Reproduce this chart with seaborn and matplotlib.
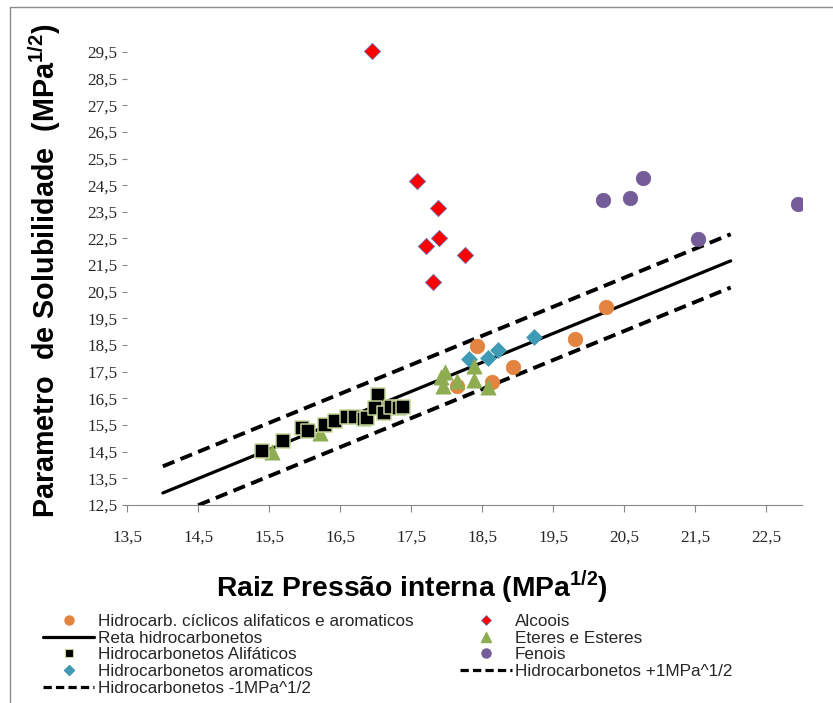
import matplotlib
matplotlib.use("Agg")
import matplotlib.pyplot as plt
import seaborn as sns
import pandas as pd
from matplotlib.lines import Line2D

# --- data -------------------------------------------------------------
ciclicos_x = [20.24, 19.81, 18.43, 18.94, 18.64, 18.15]
ciclicos_y = [19.92, 18.73, 18.48, 17.67, 17.13, 16.97]

aromaticos_x = [19.23, 18.72, 18.58, 18.31]
aromaticos_y = [18.79, 18.32, 18.00, 17.98]

alcoois_x = [16.95, 17.58, 17.88, 17.89, 17.71, 18.26, 17.80]
alcoois_y = [29.55, 24.66, 23.66, 22.51, 22.22, 21.87, 20.88]

fenois_x = [20.20, 20.58, 20.77, 21.54, 22.95]
fenois_y = [23.94, 24.01, 24.78, 22.48, 23.78]

eteres_x = [18.39, 17.98, 17.92, 17.95, 18.14, 18.39, 18.58, 15.54, 16.22]
eteres_y = [17.72, 17.50, 17.29, 16.97, 17.16, 17.19, 16.92, 14.50, 15.19]

alifaticos_x = [15.39, 15.69, 15.96, 16.05, 16.28, 16.42, 16.59, 16.71,
                16.83, 16.87, 17.03, 16.99, 17.12, 17.21, 17.32, 17.39]
alifaticos_y = [14.53, 14.90, 15.38, 15.29, 15.50, 15.66, 15.81, 15.81,
                15.72, 15.75, 16.63, 16.13, 15.96, 16.19, 16.13, 16.17]

# hydrocarbon line (end points) and the +/- band offset
reta_x = [14.0, 22.0]
reta_y = [12.95, 21.66]
desvio = 1.0

x_ticks = [13.5, 14.5, 15.5, 16.5, 17.5, 18.5, 19.5, 20.5, 21.5, 22.5]
x_tick_labels = ["13,5", "14,5", "15,5", "16,5", "17,5", "18,5", "19,5",
                 "20,5", "21,5", "22,5"]
y_ticks = [12.5, 13.5, 14.5, 15.5, 16.5, 17.5, 18.5, 19.5, 20.5, 21.5,
           22.5, 23.5, 24.5, 25.5, 26.5, 27.5, 28.5, 29.5]
y_tick_labels = ["12,5", "13,5", "14,5", "15,5", "16,5", "17,5", "18,5",
                 "19,5", "20,5", "21,5", "22,5", "23,5", "24,5", "25,5",
                 "26,5", "27,5", "28,5", "29,5"]

# --- style ------------------------------------------------------------
sns.set_theme(style="white")
plt.rcParams['font.family'] = ['Liberation Sans', 'DejaVu Sans']
plt.rcParams['mathtext.fontset'] = 'custom'
plt.rcParams['mathtext.rm'] = 'Liberation Sans'
plt.rcParams['mathtext.bf'] = 'Liberation Sans:bold'

c_orange = '#e2843f'
c_teal = '#3f9bb5'
c_red = '#ff0000'
c_green = '#8eac50'
c_purple = '#735c98'
c_sq_edge = '#c3d69b'

fig = plt.figure(figsize=(8.33, 7.03), dpi=100)
ax = fig.add_axes([0.1529, 0.2817, 0.8095, 0.6634])

# --- lines ------------------------------------------------------------
linhas = pd.DataFrame({
    'x': reta_x,
    'reta': reta_y,
    'mais': [v + desvio for v in reta_y],
    'menos': [v - desvio for v in reta_y],
})
dash = (0, (3.2, 1.7))
sns.lineplot(data=linhas, x='x', y='reta', ax=ax, color='black', lw=2.3,
             zorder=2)
sns.lineplot(data=linhas, x='x', y='mais', ax=ax, color='black', lw=2.8,
             linestyle=dash, dash_capstyle='butt', zorder=2)
sns.lineplot(data=linhas, x='x', y='menos', ax=ax, color='black', lw=2.8,
             linestyle=dash, dash_capstyle='butt', zorder=2)

# --- points -----------------------------------------------------------
sns.scatterplot(x=ciclicos_x, y=ciclicos_y, ax=ax, marker='o', s=110,
                color=c_orange, edgecolor=c_orange, linewidth=0.5, zorder=3)
sns.scatterplot(x=aromaticos_x, y=aromaticos_y, ax=ax, marker='D', s=65,
                color=c_teal, edgecolor=c_teal, linewidth=0.5, zorder=3)
sns.scatterplot(x=alcoois_x, y=alcoois_y, ax=ax, marker='D', s=68,
                color=c_red, edgecolor='#6a6ab0', linewidth=0.6, zorder=3)
sns.scatterplot(x=eteres_x, y=eteres_y, ax=ax, marker='^', s=120,
                color=c_green, edgecolor=c_green, linewidth=0.5, zorder=4)
sns.scatterplot(x=alifaticos_x, y=alifaticos_y, ax=ax, marker='s', s=100,
                color='black', edgecolor=c_sq_edge, linewidth=1.1, zorder=5)
sns.scatterplot(x=fenois_x, y=fenois_y, ax=ax, marker='o', s=110,
                color=c_purple, edgecolor=c_purple, linewidth=0.5, zorder=3)

# --- axes -------------------------------------------------------------
ax.set_xlim(13.5, 23.0)
ax.set_ylim(12.5, 30.0)
ax.set_xticks(x_ticks)
ax.set_xticklabels(x_tick_labels, family=['Liberation Serif'], fontsize=12.3,
                   color='#262626')
ax.set_yticks(y_ticks)
ax.set_yticklabels(y_tick_labels, family=['Liberation Serif'], fontsize=12.3,
                   color='#262626')
for side in ('left', 'top', 'right'):
    ax.spines[side].set_visible(False)
ax.spines['bottom'].set_color('#868686')
ax.spines['bottom'].set_linewidth(0.8)
ax.tick_params(axis='x', direction='out', length=5, width=0.8,
               color='#868686', pad=13, bottom=True)
ax.tick_params(axis='y', direction='out', length=3.5, width=0.8,
               color='#868686', pad=3.5, left=True)
ax.grid(False)

ax.set_xlabel(r'Raiz Pressão interna (MPa$^{\mathbf{1/2}}$)',
              fontweight='bold', fontsize=20.3, color='black')
ax.xaxis.set_label_coords(0.422, -0.137)
ax.set_ylabel('')
fig.text(45 / 833, 1 - 271 / 703,
         r'Parametro  de Solubilidade  (MPa$^{\mathbf{1/2}}$)',
         rotation=90, ha='center', va='center', fontweight='bold',
         fontsize=20.7, color='black')

# --- legend -----------------------------------------------------------
handles = [
    Line2D([], [], ls='none', marker='o', ms=6.5, color=c_orange),
    Line2D([], [], color='black', lw=2.3),
    Line2D([], [], ls='none', marker='s', ms=6, color='black',
           markeredgecolor=c_sq_edge, markeredgewidth=0.8),
    Line2D([], [], ls='none', marker='D', ms=4.8, color=c_teal),
    Line2D([], [], color='black', lw=2.3, ls=(0, (2.6, 1.3))),
    Line2D([], [], ls='none', marker='D', ms=4.8, color=c_red,
           markeredgecolor='#6a6ab0', markeredgewidth=0.5),
    Line2D([], [], ls='none', marker='^', ms=7, color=c_green),
    Line2D([], [], ls='none', marker='o', ms=6.5, color=c_purple),
    Line2D([], [], color='black', lw=2.3, ls=(0, (2.6, 1.3))),
]
labels = [
    'Hidrocarb. cíclicos alifaticos e aromaticos',
    'Reta hidrocarbonetos',
    'Hidrocarbonetos Alifáticos',
    'Hidrocarbonetos aromaticos',
    'Hidrocarbonetos -1MPa^1/2',
    'Alcoois',
    'Eteres e Esteres',
    'Fenois',
    'Hidrocarbonetos +1MPa^1/2',
]
fig.legend(handles, labels, ncol=2, loc='upper left',
           bbox_to_anchor=(43 / 833, 1 - 614 / 703), frameon=False,
           fontsize=12.3, labelspacing=0.1, handlelength=3.0,
           handletextpad=0.2, columnspacing=2.75, borderpad=0.0,
           borderaxespad=0.0)

# --- chart border -----------------------------------------------------
fig.add_artist(Line2D([10 / 833, 10 / 833], [0, 1 - 7 / 703],
                      transform=fig.transFigure, color='#8c8c8c', lw=1))
fig.add_artist(Line2D([10 / 833, 1], [1 - 7 / 703, 1 - 7 / 703],
                      transform=fig.transFigure, color='#8c8c8c', lw=1))

fig.savefig('out.png', dpi=100)
